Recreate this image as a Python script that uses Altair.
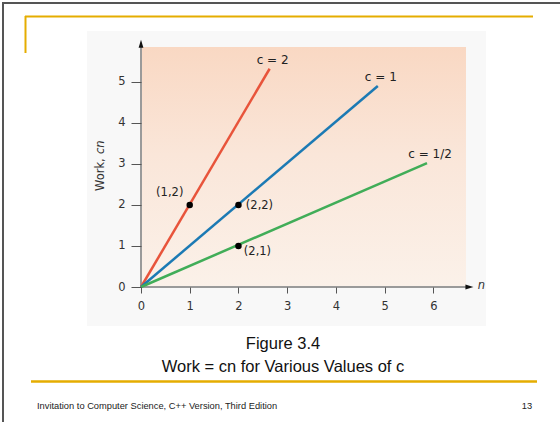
import altair as alt
import pandas as pd

# ---------------- data ----------------
series_names = ["c = 2", "c = 1", "c = 1/2"]
end_n = [2.64, 4.86, 5.87]
end_work = [5.32, 4.90, 3.02]
point_n = [1, 2, 2]
point_work = [2, 2, 1]
point_labels = ["(1,2)", "(2,2)", "(2,1)"]
x_tick_values = [0, 1, 2, 3, 4, 5, 6]
y_tick_values = [0, 1, 2, 3, 4, 5]
x_domain = [0, 6.67]
y_domain = [0, 5.85]
axis_end = [6.74, 5.93]
caption_lines = ["Figure 3.4", "Work = cn for Various Values of c"]
footer_left = "Invitation to Computer Science, C++ Version, Third Edition"
footer_right = "13"

# ---------------- styles ----------------
series_colors = ["#e8543b", "#1c7ab4", "#41ad58"]
FONT = "DejaVu Sans"
CAP_FONT = "Liberation Sans"
GOLD = "#e5ad00"
LEFT, TOP, W, H = 141, 47, 325, 240


def px(v):
    return v - LEFT


def py(v):
    return v - TOP


one = pd.DataFrame({"k": [0]})

x_scale = alt.Scale(domain=x_domain, nice=False, zero=False)
y_scale = alt.Scale(domain=y_domain, nice=False, zero=False)
x_axis = alt.Axis(values=x_tick_values, domain=False, grid=False, tickSize=6,
                  tickColor="#555555", tickWidth=1, labelFont=FONT,
                  labelFontSize=11.5, labelColor="#333333", labelPadding=7,
                  title=None, zindex=2, labelFlush=False)
y_axis = alt.Axis(values=y_tick_values, domain=False, grid=False, tickSize=10,
                  tickColor="#555555", tickWidth=1, labelFont=FONT,
                  labelFontSize=11.5, labelColor="#333333", labelPadding=6,
                  title=None, zindex=2, labelFlush=False)


def X(f, **kw):
    return alt.X(f, type="quantitative", scale=x_scale, axis=x_axis, **kw)


def Y(f, **kw):
    return alt.Y(f, type="quantitative", scale=y_scale, axis=y_axis, **kw)


# ---------------- tables ----------------
rows = []
for s, n1, w1 in zip(series_names, end_n, end_work):
    rows.append({"series": s, "n": 0.0, "work": 0.0, "o": 0})
    rows.append({"series": s, "n": n1, "work": w1, "o": 1})
lines_df = pd.DataFrame(rows)
ends_df = pd.DataFrame({"series": series_names, "n": end_n, "work": end_work})
pts_df = pd.DataFrame({"n": point_n, "work": point_work, "label": point_labels})
area_df = pd.DataFrame({"x0": [x_domain[0]], "x1": [x_domain[1]],
                        "y0": [y_domain[0]], "y1": [y_domain[1]]})
axis_df = pd.DataFrame({"z": [0.0], "xe": [axis_end[0]], "ye": [axis_end[1]]})

color = alt.Color("series:N", scale=alt.Scale(domain=series_names, range=series_colors),
                  legend=None)

layers = []

# slide frame
layers.append(alt.Chart(one).mark_rule(color="#555555", strokeWidth=2).encode(
    x=alt.value(px(2)), x2=alt.value(px(560)), y=alt.value(py(3))))
layers.append(alt.Chart(one).mark_rule(color="#555555", strokeWidth=2).encode(
    x=alt.value(px(3)), y=alt.value(py(2)), y2=alt.value(py(422))))
# gold decorations
layers.append(alt.Chart(one).mark_rule(color=GOLD, strokeWidth=2).encode(
    x=alt.value(px(25)), x2=alt.value(px(533)), y=alt.value(py(16.5))))
layers.append(alt.Chart(one).mark_rule(color=GOLD, strokeWidth=2).encode(
    x=alt.value(px(25.5)), y=alt.value(py(16)), y2=alt.value(py(53))))
layers.append(alt.Chart(one).mark_rule(color=GOLD, strokeWidth=2.5).encode(
    x=alt.value(px(31)), x2=alt.value(px(537)), y=alt.value(py(381.5))))
# figure background
layers.append(alt.Chart(one).mark_rect(color="#f8f8f8").encode(
    x=alt.value(px(87)), x2=alt.value(px(486)), y=alt.value(py(31)), y2=alt.value(py(326))))

# peach plot background
grad = alt.Gradient(gradient="linear",
                    stops=[alt.GradientStop(color="#f9d8c3", offset=0),
                           alt.GradientStop(color="#fae6d9", offset=0.45),
                           alt.GradientStop(color="#fbf1e9", offset=1)],
                    x1=0, x2=0, y1=0, y2=1)
layers.append(alt.Chart(area_df).mark_rect(fill=grad).encode(
    x=X("x0"), x2="x1", y=Y("y0"), y2="y1"))

# axis lines + arrows
layers.append(alt.Chart(axis_df).mark_rule(color="#9a9a9a", strokeWidth=2).encode(
    x=X("z"), x2="xe", y=Y("z")))
layers.append(alt.Chart(axis_df).mark_rule(color="#9a9a9a", strokeWidth=2).encode(
    x=X("z"), y=Y("z"), y2="ye"))
layers.append(alt.Chart(axis_df).mark_point(
    shape="M0,-1L0.6,1L-0.6,1Z", filled=True, color="#111111", size=64, opacity=1).encode(
    x=X("z"), y=Y("ye")))
layers.append(alt.Chart(axis_df).mark_point(
    shape="M1,0L-1,-0.6L-1,0.6Z", filled=True, color="#111111", size=64, opacity=1).encode(
    x=X("xe"), y=Y("z")))

# lines
layers.append(alt.Chart(lines_df).mark_line(strokeWidth=2.5).encode(
    x=X("n"), y=Y("work"), color=color, detail="series:N", order="o:Q"))

# points
layers.append(alt.Chart(pts_df).mark_circle(size=42, color="#000000", opacity=1).encode(
    x=X("n"), y=Y("work")))

# line labels
layers.append(alt.Chart(ends_df).mark_text(
    font=FONT, fontSize=12, color="#222222", dx=3, dy=-9, align="center",
    baseline="middle").encode(x=X("n"), y=Y("work"), text="series:N"))

# point labels
offsets = [(-20, -12), (21, 1), (19, 6)]
for i, (ddx, ddy) in enumerate(offsets):
    layers.append(alt.Chart(pts_df.iloc[[i]]).mark_text(
        font=FONT, fontSize=11.5, color="#222222", dx=ddx, dy=ddy, align="center",
        baseline="middle").encode(x=X("n"), y=Y("work"), text="label:N"))

# axis titles
layers.append(alt.Chart(one).mark_text(
    text="Work,", font=FONT, fontSize=11.5, color="#333333", angle=270,
    align="left", baseline="middle").encode(x=alt.value(px(101)), y=alt.value(py(191))))
layers.append(alt.Chart(one).mark_text(
    text="cn", font=FONT, fontSize=11.5, fontStyle="italic", color="#333333", angle=270,
    align="left", baseline="middle").encode(x=alt.value(px(101)), y=alt.value(py(154))))
layers.append(alt.Chart(one).mark_text(
    text="n", font=FONT, fontSize=11.5, fontStyle="italic", color="#333333",
    align="center", baseline="middle").encode(x=alt.value(px(481.5)), y=alt.value(py(286))))

# captions
for txt, yy in zip(caption_lines, [344, 367]):
    layers.append(alt.Chart(one).mark_text(
        text=txt, font=CAP_FONT, fontSize=16.5, color="#111111", align="center",
        baseline="middle").encode(x=alt.value(px(283)), y=alt.value(py(yy))))
layers.append(alt.Chart(one).mark_text(
    text=footer_left, font=CAP_FONT, fontSize=9.3, color="#222222", align="left",
    baseline="middle").encode(x=alt.value(px(37)), y=alt.value(py(406))))
layers.append(alt.Chart(one).mark_text(
    text=footer_right, font=CAP_FONT, fontSize=9.3, color="#222222", align="center",
    baseline="middle").encode(x=alt.value(px(527)), y=alt.value(py(406))))

chart = alt.layer(*layers).properties(
    width=W, height=H,
    padding={"left": LEFT, "top": TOP, "right": 560 - LEFT - W, "bottom": 422 - TOP - H},
    autosize=alt.AutoSizeParams(type="none"),
    background="white",
).configure_view(stroke=None)

chart.save("out.html", embed_options={"renderer": "svg", "actions": False})
